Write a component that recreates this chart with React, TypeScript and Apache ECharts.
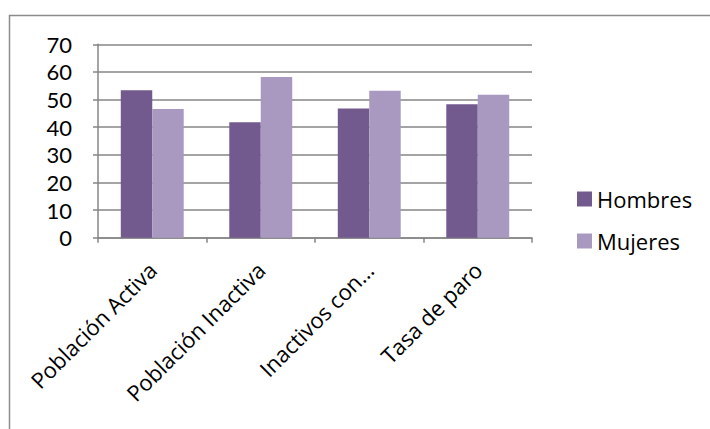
import React, { useEffect, useRef } from "react";
import * as echarts from "echarts";

const categories = ["Población Activa", "Población Inactiva", "Inactivos con…", "Tasa de paro"];
const hombres = [53.4, 41.8, 46.8, 48.3];
const mujeres = [46.6, 58.2, 53.2, 51.7];
const seriesNames = ["Hombres", "Mujeres"];

const FONT = "'Open Sans', 'Noto Sans', sans-serif";
const YFONT = "Lato, 'Open Sans', sans-serif";
const AXIS = "#868686";

export default function App() {
  const ref = useRef<HTMLDivElement>(null);
  useEffect(() => {
    if (!ref.current) return;
    const chart = echarts.init(ref.current, null, { renderer: "svg" });
    chart.setOption({
      animation: false,
      backgroundColor: "#ffffff",
      textStyle: { fontFamily: FONT },
      graphic: [
        {
          type: "polyline",
          shape: { points: [[9.5, 440], [9.5, 15.5], [720, 15.5]] },
          style: { fill: "none", stroke: "#8c8c8c", lineWidth: 1.5 },
          silent: true,
        },
      ],
      grid: { left: 98, top: 44.3, width: 434, height: 193.4 },
      legend: {
        data: seriesNames,
        orient: "vertical",
        left: 577,
        top: 187,
        padding: 0,
        itemWidth: 15,
        itemHeight: 15,
        itemGap: 18,
        icon: "rect",
        textStyle: { fontSize: 22, color: "#000", fontFamily: FONT, lineHeight: 24 },
      },
      xAxis: {
        type: "category",
        data: categories,
        axisLine: { show: true, lineStyle: { color: AXIS, width: 1.5 } },
        axisTick: { show: true, length: 5, lineStyle: { color: AXIS, width: 1.5 } },
        axisLabel: {
          rotate: 45,
          interval: 0,
          margin: 28,
          fontSize: 22,
          lineHeight: 24,
          color: "#000",
          fontFamily: FONT,
        },
      },
      yAxis: {
        type: "value",
        min: 0,
        max: 70,
        interval: 10,
        axisLine: { show: true, lineStyle: { color: AXIS, width: 1.5 } },
        axisTick: { show: true, length: 5, lineStyle: { color: AXIS, width: 1.5 } },
        splitLine: { show: true, lineStyle: { color: AXIS, width: 1.5 } },
        axisLabel: {
          fontSize: 22,
          lineHeight: 24,
          color: "#000",
          fontFamily: YFONT,
          margin: 26,
        },
      },
      series: [
        {
          name: seriesNames[0],
          type: "bar",
          data: hombres,
          barGap: "0%",
          barCategoryGap: "42%",
          itemStyle: { color: "#725a8f" },
        },
        {
          name: seriesNames[1],
          type: "bar",
          data: mujeres,
          barGap: "0%",
          barCategoryGap: "42%",
          itemStyle: { color: "#a999c1" },
        },
      ],
    });
    return () => chart.dispose();
  }, []);
  return (
    <div
      ref={ref}
      style={{ position: "fixed", left: 0, top: 0, width: 710, height: 429 }}
    />
  );
}
